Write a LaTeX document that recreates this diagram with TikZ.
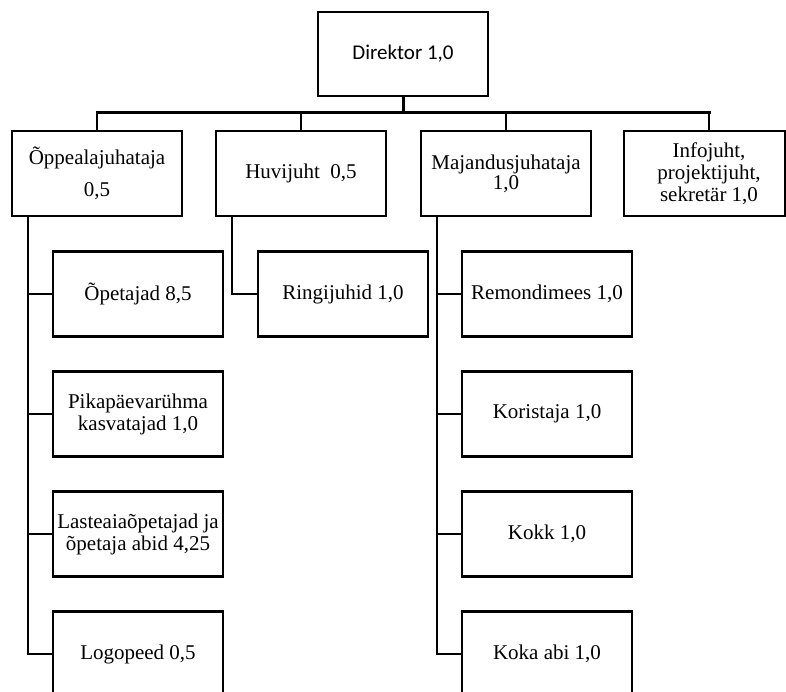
\documentclass[tikz,border=0pt]{standalone}
\usepackage{fontspec}
\setmainfont{Liberation Serif}
\newfontfamily\calib{Carlito}
\begin{document}
\begin{tikzpicture}[x=1pt,y=-1pt,
  box/.style={draw, line width=2.3pt, minimum width=170pt, minimum height=85pt,
    inner sep=0pt, align=center, font=\fontsize{21}{22}\selectfont},
  txt/.style={inner sep=0pt, align=center, font=\fontsize{21}{22}\selectfont},
  conn/.style={line width=2.5pt},
  thick conn/.style={line width=3pt}]
\useasboundingbox (0,0) rectangle (786,691);
% top
\node[box, minimum height=84pt, font=\calib\fontsize{21}{22}\selectfont] (dir) at (403,54) {Direktor 1,0};
% level 2
\node[box] (op) at (97,173.5) {Õppealajuhataja\\[10pt]0,5};
\node[box] (hu) at (301,173.5) {Huvijuht\ \ 0,5};
\node[box] (ma) at (506,173.5) {Majandusjuhataja\\[-2pt]1,0};
\node[box, minimum width=161pt] (info) at (704.5,173.5) {};
\node[txt] (infot) at (709,173.5) {Infojuht,\\projektijuht,\\sekretär 1,0};
% level 3 left
\node[box] (t1) at (138,294) {Õpetajad 8,5};
\node[box] (t2) at (138,414) {Pikapäevarühma\\kasvatajad 1,0};
\node[box] (t3) at (138,534) {Lasteaiaõpetajad ja\\õpetaja abid 4,25};
\node[box] (t4) at (138,654) {Logopeed 0,5};
% ring
\node[box] (ring) at (343,294) {Ringijuhid 1,0};
% right
\node[box] (m1) at (547,294) {Remondimees 1,0};
\node[box] (m2) at (547,414) {Koristaja 1,0};
\node[box] (m3) at (547,534) {Kokk 1,0};
\node[box] (m4) at (547,654) {Koka abi 1,0};
% connectors
\coordinate (bar) at (403,112);
\draw[thick conn] (dir.south) -- (bar);
\draw[thick conn, line cap=rect] (op.north |- bar) -- (infot.north |- bar);
\draw[conn] (bar -| op.north) -- (op.north);
\draw[conn] (bar -| hu.north) -- (hu.north);
\draw[conn] (bar -| ma.north) -- (ma.north);
\draw[conn] (bar -| infot) -- (info.north -| infot);
\coordinate (opstem) at (28,216);
\coordinate (hustem) at (232,216);
\coordinate (mastem) at (437,216);
\draw[conn] (opstem) |- (t4.west);
\foreach \n in {t1,t2,t3} \draw[conn] (opstem |- \n.west) -- (\n.west);
\draw[conn] (hustem) |- (ring.west);
\draw[conn] (mastem) |- (m4.west);
\foreach \n in {m1,m2,m3} \draw[conn] (mastem |- \n.west) -- (\n.west);
\end{tikzpicture}
\end{document}
